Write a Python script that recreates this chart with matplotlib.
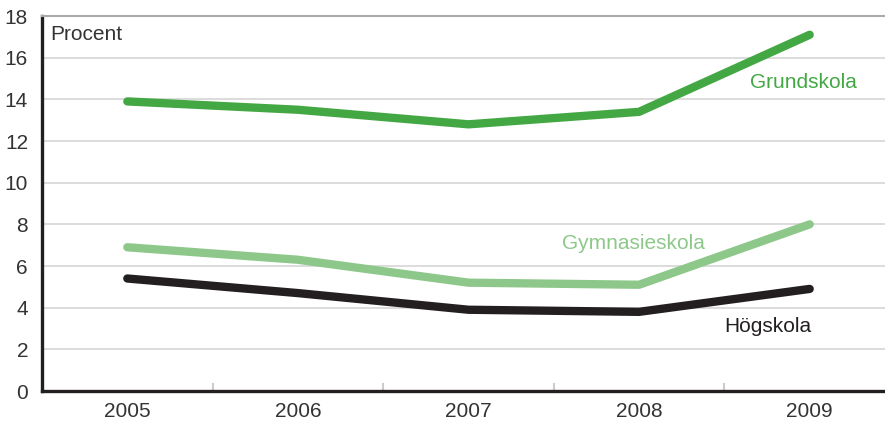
import matplotlib

matplotlib.use("Agg")
import matplotlib.pyplot as plt
import numpy as np

plt.rcParams["font.family"] = ["Liberation Sans", "DejaVu Sans"]

years = ["2005", "2006", "2007", "2008", "2009"]
grundskola = [13.9, 13.5, 12.8, 13.4, 17.1]
gymnasieskola = [6.9, 6.3, 5.2, 5.1, 8.0]
hogskola = [5.4, 4.7, 3.9, 3.8, 4.9]

GREEN = "#43a843"
LIGHT = "#8dc88a"
DARK = "#231f20"
TXT = "#333333"

fig = plt.figure(figsize=(8.85, 4.23), dpi=100)
ax = fig.add_axes([42 / 885, 32 / 423, 853 / 885, 375 / 423])

x = np.arange(len(years))
style = dict(lw=6, solid_capstyle="round", solid_joinstyle="round", zorder=3)
ax.plot(x, grundskola, color=GREEN, **style)
ax.plot(x, gymnasieskola, color=LIGHT, **style)
ax.plot(x, hogskola, color=DARK, **style)

# series labels placed next to the line ends
ax.text(3.965, 14.8, "Grundskola", color=GREEN, fontsize=15, ha="center", va="center")
ax.text(2.965, 7.1, "Gymnasieskola", color=LIGHT, fontsize=15, ha="center", va="center")
ax.text(3.755, 3.1, "Högskola", color=DARK, fontsize=15, ha="center", va="center")
ax.text(0.01, 17.1, "Procent", color=TXT, fontsize=15, ha="left", va="center",
        transform=ax.get_yaxis_transform())

ax.set_xlim(-0.5, 4.5)
ax.set_ylim(0, 18)
ax.set_yticks(np.arange(0, 19, 2))
ax.set_xticks(x)
ax.set_xticklabels(years)
ax.set_xticks(x[:-1] + 0.5, minor=True)
ax.tick_params(axis="y", length=0, pad=10, labelsize=15, labelcolor=TXT)
ax.tick_params(axis="x", which="major", length=0, pad=8, labelsize=15, labelcolor=TXT)
ax.tick_params(axis="x", which="minor", direction="in", length=6, width=1.5, color="#cccccc")
ax.grid(axis="y", color="#d9d9d9", lw=1.3, zorder=1)
ax.set_axisbelow(True)

for side in ("left", "bottom"):
    ax.spines[side].set_color(DARK)
    ax.spines[side].set_linewidth(2.4)
ax.spines["top"].set_color("#aaaaaa")
ax.spines["top"].set_linewidth(1.5)
ax.spines["right"].set_visible(False)

fig.savefig("out.png", dpi=100)
